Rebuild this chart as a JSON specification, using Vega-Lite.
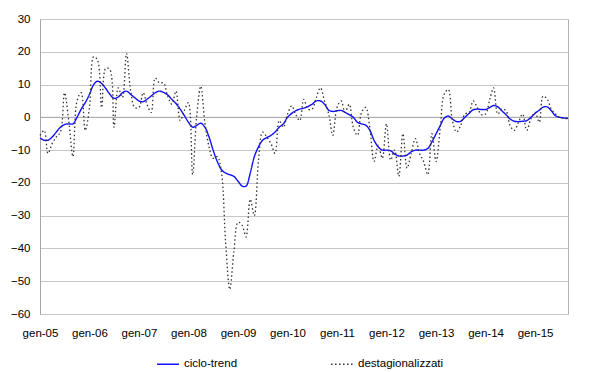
{
  "$schema": "https://vega.github.io/schema/vega-lite/v6.json",
  "width": 528,
  "height": 295,
  "autosize": {"type": "none"},
  "padding": {"left": 40, "top": 19, "right": 32, "bottom": 58},
  "background": "white",
  "config": {
    "view": {"stroke": "#b3b3b3", "strokeWidth": 1},
    "font": "Liberation Sans",
    "axis": {"labelFont": "Liberation Sans", "labelFontSize": 11.5, "labelColor": "#000000"},
    "legend": {"labelFont": "Liberation Sans", "labelFontSize": 11.5, "labelColor": "#000000"}
  },
  "data": {
    "format": {"parse": {"m": "utc:'%Y-%m'"}},
    "values": [
      {"m":"2005-01","ciclo-trend":-6.3,"destagionalizzati":-5.5},
      {"m":"2005-02","ciclo-trend":-7,"destagionalizzati":-4},
      {"m":"2005-03","ciclo-trend":-7,"destagionalizzati":-11},
      {"m":"2005-04","ciclo-trend":-6,"destagionalizzati":-8},
      {"m":"2005-05","ciclo-trend":-4.5,"destagionalizzati":-6},
      {"m":"2005-06","ciclo-trend":-3,"destagionalizzati":-4.5},
      {"m":"2005-07","ciclo-trend":-2.2,"destagionalizzati":7.5},
      {"m":"2005-08","ciclo-trend":-2,"destagionalizzati":-1},
      {"m":"2005-09","ciclo-trend":-2,"destagionalizzati":-12},
      {"m":"2005-10","ciclo-trend":0,"destagionalizzati":5},
      {"m":"2005-11","ciclo-trend":2.5,"destagionalizzati":7.5},
      {"m":"2005-12","ciclo-trend":4.5,"destagionalizzati":-4},
      {"m":"2006-01","ciclo-trend":7,"destagionalizzati":3},
      {"m":"2006-02","ciclo-trend":10,"destagionalizzati":18.5},
      {"m":"2006-03","ciclo-trend":11,"destagionalizzati":17.5},
      {"m":"2006-04","ciclo-trend":10.3,"destagionalizzati":3},
      {"m":"2006-05","ciclo-trend":8.8,"destagionalizzati":15},
      {"m":"2006-06","ciclo-trend":7,"destagionalizzati":14.5},
      {"m":"2006-07","ciclo-trend":5.8,"destagionalizzati":-3},
      {"m":"2006-08","ciclo-trend":6.2,"destagionalizzati":9},
      {"m":"2006-09","ciclo-trend":7.5,"destagionalizzati":6},
      {"m":"2006-10","ciclo-trend":8,"destagionalizzati":19.5},
      {"m":"2006-11","ciclo-trend":7,"destagionalizzati":8},
      {"m":"2006-12","ciclo-trend":6,"destagionalizzati":3},
      {"m":"2007-01","ciclo-trend":5,"destagionalizzati":3},
      {"m":"2007-02","ciclo-trend":4.8,"destagionalizzati":7.5},
      {"m":"2007-03","ciclo-trend":5.5,"destagionalizzati":4},
      {"m":"2007-04","ciclo-trend":6.5,"destagionalizzati":1.5},
      {"m":"2007-05","ciclo-trend":7.5,"destagionalizzati":12},
      {"m":"2007-06","ciclo-trend":8,"destagionalizzati":10.5},
      {"m":"2007-07","ciclo-trend":7.6,"destagionalizzati":10.5},
      {"m":"2007-08","ciclo-trend":6.8,"destagionalizzati":6.5},
      {"m":"2007-09","ciclo-trend":5.5,"destagionalizzati":4},
      {"m":"2007-10","ciclo-trend":4.2,"destagionalizzati":8},
      {"m":"2007-11","ciclo-trend":2.5,"destagionalizzati":-1},
      {"m":"2007-12","ciclo-trend":0.6,"destagionalizzati":2},
      {"m":"2008-01","ciclo-trend":-1.5,"destagionalizzati":4.5},
      {"m":"2008-02","ciclo-trend":-3,"destagionalizzati":-17.5},
      {"m":"2008-03","ciclo-trend":-2.5,"destagionalizzati":0},
      {"m":"2008-04","ciclo-trend":-1.8,"destagionalizzati":9.5},
      {"m":"2008-05","ciclo-trend":-3,"destagionalizzati":-1.5},
      {"m":"2008-06","ciclo-trend":-6,"destagionalizzati":-9},
      {"m":"2008-07","ciclo-trend":-10,"destagionalizzati":-12.5},
      {"m":"2008-08","ciclo-trend":-13.5,"destagionalizzati":-12},
      {"m":"2008-09","ciclo-trend":-16,"destagionalizzati":-17},
      {"m":"2008-10","ciclo-trend":-17,"destagionalizzati":-38},
      {"m":"2008-11","ciclo-trend":-17.5,"destagionalizzati":-52.5},
      {"m":"2008-12","ciclo-trend":-18,"destagionalizzati":-41},
      {"m":"2009-01","ciclo-trend":-19.5,"destagionalizzati":-32},
      {"m":"2009-02","ciclo-trend":-21,"destagionalizzati":-33},
      {"m":"2009-03","ciclo-trend":-21,"destagionalizzati":-36.5},
      {"m":"2009-04","ciclo-trend":-17,"destagionalizzati":-25},
      {"m":"2009-05","ciclo-trend":-12,"destagionalizzati":-30},
      {"m":"2009-06","ciclo-trend":-9,"destagionalizzati":-13},
      {"m":"2009-07","ciclo-trend":-7,"destagionalizzati":-4.5},
      {"m":"2009-08","ciclo-trend":-6.2,"destagionalizzati":-6},
      {"m":"2009-09","ciclo-trend":-5.5,"destagionalizzati":-8},
      {"m":"2009-10","ciclo-trend":-4.5,"destagionalizzati":-11},
      {"m":"2009-11","ciclo-trend":-3,"destagionalizzati":-1},
      {"m":"2009-12","ciclo-trend":-2,"destagionalizzati":-3},
      {"m":"2010-01","ciclo-trend":0,"destagionalizzati":1},
      {"m":"2010-02","ciclo-trend":1.2,"destagionalizzati":3.5},
      {"m":"2010-03","ciclo-trend":2,"destagionalizzati":1},
      {"m":"2010-04","ciclo-trend":2.5,"destagionalizzati":-1},
      {"m":"2010-05","ciclo-trend":2.8,"destagionalizzati":5.5},
      {"m":"2010-06","ciclo-trend":3.3,"destagionalizzati":2.5},
      {"m":"2010-07","ciclo-trend":4,"destagionalizzati":2.5},
      {"m":"2010-08","ciclo-trend":5,"destagionalizzati":6},
      {"m":"2010-09","ciclo-trend":5,"destagionalizzati":9},
      {"m":"2010-10","ciclo-trend":4,"destagionalizzati":5},
      {"m":"2010-11","ciclo-trend":2.2,"destagionalizzati":1},
      {"m":"2010-12","ciclo-trend":1.8,"destagionalizzati":-5.5},
      {"m":"2011-01","ciclo-trend":2,"destagionalizzati":3},
      {"m":"2011-02","ciclo-trend":2.1,"destagionalizzati":5},
      {"m":"2011-03","ciclo-trend":1.5,"destagionalizzati":1.5},
      {"m":"2011-04","ciclo-trend":0.8,"destagionalizzati":4},
      {"m":"2011-05","ciclo-trend":0,"destagionalizzati":-3},
      {"m":"2011-06","ciclo-trend":-1.5,"destagionalizzati":-5.5},
      {"m":"2011-07","ciclo-trend":-2,"destagionalizzati":1.5},
      {"m":"2011-08","ciclo-trend":-2.4,"destagionalizzati":3},
      {"m":"2011-09","ciclo-trend":-4,"destagionalizzati":-3.5},
      {"m":"2011-10","ciclo-trend":-7,"destagionalizzati":-13.5},
      {"m":"2011-11","ciclo-trend":-9,"destagionalizzati":-8.5},
      {"m":"2011-12","ciclo-trend":-10,"destagionalizzati":-12.5},
      {"m":"2012-01","ciclo-trend":-10,"destagionalizzati":-2},
      {"m":"2012-02","ciclo-trend":-10.2,"destagionalizzati":-13},
      {"m":"2012-03","ciclo-trend":-11.2,"destagionalizzati":-10},
      {"m":"2012-04","ciclo-trend":-11.8,"destagionalizzati":-18},
      {"m":"2012-05","ciclo-trend":-11.8,"destagionalizzati":-5},
      {"m":"2012-06","ciclo-trend":-11.5,"destagionalizzati":-15.5},
      {"m":"2012-07","ciclo-trend":-10.5,"destagionalizzati":-11},
      {"m":"2012-08","ciclo-trend":-10,"destagionalizzati":-6.5},
      {"m":"2012-09","ciclo-trend":-10,"destagionalizzati":-11},
      {"m":"2012-10","ciclo-trend":-10,"destagionalizzati":-13.5},
      {"m":"2012-11","ciclo-trend":-9.5,"destagionalizzati":-17.5},
      {"m":"2012-12","ciclo-trend":-7.5,"destagionalizzati":-5},
      {"m":"2013-01","ciclo-trend":-5,"destagionalizzati":-13.5},
      {"m":"2013-02","ciclo-trend":-2.5,"destagionalizzati":-3},
      {"m":"2013-03","ciclo-trend":-0.3,"destagionalizzati":7},
      {"m":"2013-04","ciclo-trend":0.4,"destagionalizzati":8.5},
      {"m":"2013-05","ciclo-trend":-0.5,"destagionalizzati":-1},
      {"m":"2013-06","ciclo-trend":-1.3,"destagionalizzati":-4.5},
      {"m":"2013-07","ciclo-trend":-1.2,"destagionalizzati":-2.5},
      {"m":"2013-08","ciclo-trend":0,"destagionalizzati":1},
      {"m":"2013-09","ciclo-trend":1.2,"destagionalizzati":1.5},
      {"m":"2013-10","ciclo-trend":2.3,"destagionalizzati":5},
      {"m":"2013-11","ciclo-trend":2.5,"destagionalizzati":3},
      {"m":"2013-12","ciclo-trend":2.4,"destagionalizzati":0.8},
      {"m":"2014-01","ciclo-trend":2.4,"destagionalizzati":1},
      {"m":"2014-02","ciclo-trend":3,"destagionalizzati":5.5},
      {"m":"2014-03","ciclo-trend":3.6,"destagionalizzati":9},
      {"m":"2014-04","ciclo-trend":3.2,"destagionalizzati":1},
      {"m":"2014-05","ciclo-trend":2,"destagionalizzati":2.5},
      {"m":"2014-06","ciclo-trend":0.8,"destagionalizzati":2},
      {"m":"2014-07","ciclo-trend":-0.5,"destagionalizzati":-2.5},
      {"m":"2014-08","ciclo-trend":-1.2,"destagionalizzati":-4},
      {"m":"2014-09","ciclo-trend":-1.3,"destagionalizzati":-1.5},
      {"m":"2014-10","ciclo-trend":-1.2,"destagionalizzati":1},
      {"m":"2014-11","ciclo-trend":-1,"destagionalizzati":-4},
      {"m":"2014-12","ciclo-trend":0,"destagionalizzati":-0.5},
      {"m":"2015-01","ciclo-trend":1.2,"destagionalizzati":1.5},
      {"m":"2015-02","ciclo-trend":2.2,"destagionalizzati":-1.5},
      {"m":"2015-03","ciclo-trend":3.1,"destagionalizzati":6.5},
      {"m":"2015-04","ciclo-trend":3.2,"destagionalizzati":5.5},
      {"m":"2015-05","ciclo-trend":2,"destagionalizzati":2.5},
      {"m":"2015-06","ciclo-trend":0.5,"destagionalizzati":1},
      {"m":"2015-07","ciclo-trend":0,"destagionalizzati":0},
      {"m":"2015-08","ciclo-trend":-0.2,"destagionalizzati":-0.3},
      {"m":"2015-09","ciclo-trend":-0.3,"destagionalizzati":-0.4}
    ]
  },
  "transform": [{"fold": ["ciclo-trend", "destagionalizzati"], "as": ["serie", "valore"]}],
  "layer": [
    {
      "data": {"values": [{"zero": 0}]},
      "mark": {"type": "rule", "color": "#a6a6a6", "strokeWidth": 1},
      "encoding": {
        "y": {
          "field": "zero",
          "type": "quantitative",
          "scale": {"domain": [-60, 30], "nice": false, "zero": false},
          "axis": {
            "title": null,
            "values": [-60, -50, -40, -30, -20, -10, 0, 10, 20, 30],
            "grid": true,
            "gridColor": "#c6c6c6",
            "domain": true,
            "domainColor": "#a6a6a6",
            "ticks": false,
            "labelOverlap": false,
            "labelPadding": 10
          }
        }
      }
    },
    {
      "mark": {"type": "line", "interpolate": "catmull-rom"},
      "encoding": {
        "x": {
          "field": "m",
          "type": "temporal",
          "scale": {"type": "utc", "nice": false, "domain": [{"year": 2005, "month": 1, "date": 1, "utc": true}, {"year": 2015, "month": 9, "date": 1, "utc": true}]},
          "axis": {
            "title": null,
            "grid": false,
            "domain": false,
            "ticks": false,
            "labelPadding": 13,
            "labelFlush": false,
            "labelOverlap": false,
            "values": [
              {"year": 2005, "month": 1, "date": 1, "utc": true},
              {"year": 2006, "month": 1, "date": 1, "utc": true},
              {"year": 2007, "month": 1, "date": 1, "utc": true},
              {"year": 2008, "month": 1, "date": 1, "utc": true},
              {"year": 2009, "month": 1, "date": 1, "utc": true},
              {"year": 2010, "month": 1, "date": 1, "utc": true},
              {"year": 2011, "month": 1, "date": 1, "utc": true},
              {"year": 2012, "month": 1, "date": 1, "utc": true},
              {"year": 2013, "month": 1, "date": 1, "utc": true},
              {"year": 2014, "month": 1, "date": 1, "utc": true},
              {"year": 2015, "month": 1, "date": 1, "utc": true}
            ],
            "labelExpr": "'gen-' + utcFormat(datum.value, '%y')"
          }
        },
        "y": {
          "field": "valore",
          "type": "quantitative",
          "scale": {"domain": [-60, 30], "nice": false, "zero": false},
          "axis": {
            "title": null,
            "values": [-60, -50, -40, -30, -20, -10, 0, 10, 20, 30],
            "grid": true,
            "gridColor": "#c6c6c6",
            "domain": true,
            "domainColor": "#a6a6a6",
            "ticks": false,
            "labelOverlap": false,
            "labelPadding": 10
          }
        },
        "color": {
          "field": "serie",
          "type": "nominal",
          "scale": {"domain": ["ciclo-trend", "destagionalizzati"], "range": ["#1010ff", "#333333"]},
          "legend": {
            "title": null,
            "orient": "none",
            "direction": "horizontal",
            "legendX": 116,
            "legendY": 333,
            "columnPadding": 90,
            "symbolSize": 480,
            "symbolStrokeWidth": 1.5,
            "labelOffset": 4
          }
        },
        "strokeDash": {
          "field": "serie",
          "type": "nominal",
          "scale": {"domain": ["ciclo-trend", "destagionalizzati"], "range": [[1, 0], [1.5, 2.5]]}
        },
        "strokeWidth": {
          "field": "serie",
          "type": "nominal",
          "scale": {"domain": ["ciclo-trend", "destagionalizzati"], "range": [1.4, 1.3]},
          "legend": null
        }
      }
    }
  ]
}
